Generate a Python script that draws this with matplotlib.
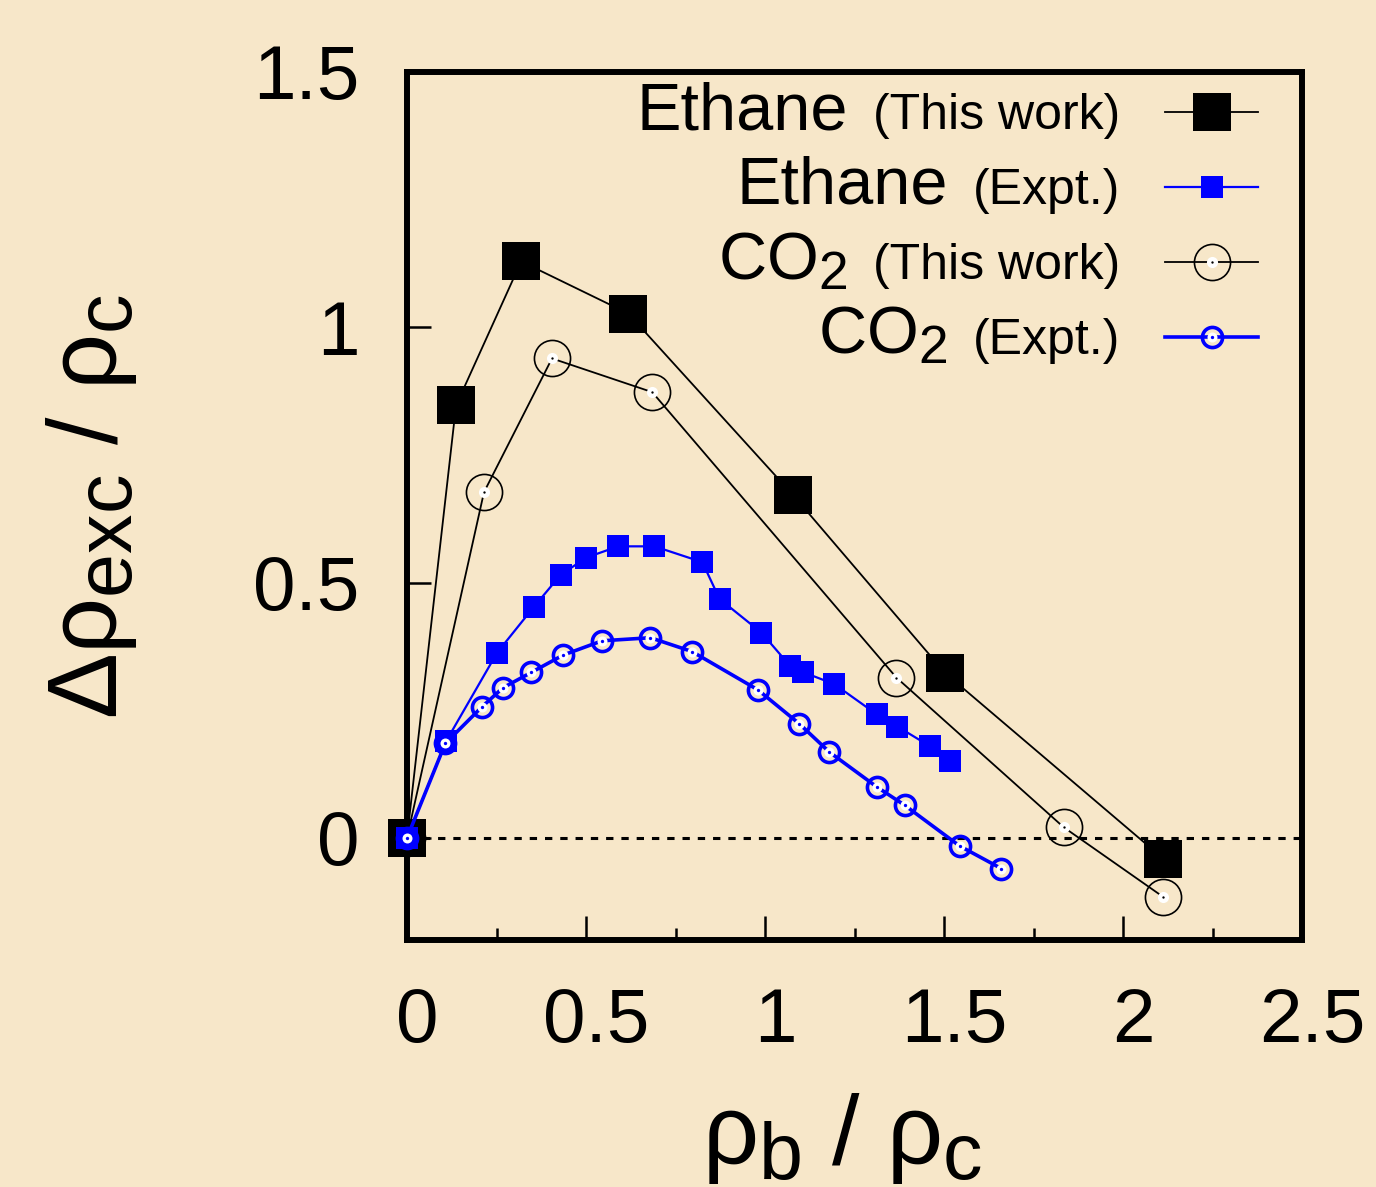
import matplotlib
matplotlib.use("Agg")
import matplotlib.pyplot as plt
import matplotlib.transforms as mtransforms
from matplotlib.legend_handler import HandlerTuple
from matplotlib.ticker import MultipleLocator
try:
    import matplotlib._mathtext as _mt
    _mt.SHRINK_FACTOR = 0.8
except Exception:
    pass

# ---------------- data ----------------
eth_sim_x = [0.0, 0.137, 0.319, 0.618, 1.079, 1.503, 2.113]
eth_sim_y = [0.0, 0.847, 1.129, 1.027, 0.671, 0.323, -0.041]

co2_sim_x = [0.0, 0.215, 0.405, 0.685, 1.367, 1.834, 2.111]
co2_sim_y = [0.0, 0.677, 0.939, 0.873, 0.314, 0.021, -0.115]

eth_exp_x = [0.0, 0.109, 0.252, 0.355, 0.429, 0.501, 0.590, 0.691, 0.825, 0.873,
             0.990, 1.071, 1.105, 1.194, 1.312, 1.370, 1.462, 1.518]
eth_exp_y = [0.0, 0.189, 0.363, 0.453, 0.515, 0.549, 0.571, 0.571, 0.540, 0.468,
             0.402, 0.336, 0.325, 0.301, 0.242, 0.218, 0.179, 0.150]

co2_exp_x = [0.0, 0.107, 0.210, 0.268, 0.347, 0.436, 0.545, 0.680, 0.796, 0.980,
             1.095, 1.180, 1.312, 1.390, 1.544, 1.660]
co2_exp_y = [0.0, 0.185, 0.257, 0.294, 0.324, 0.358, 0.386, 0.392, 0.365, 0.290,
             0.224, 0.168, 0.100, 0.064, -0.016, -0.060]

big_labels = ["Ethane", "Ethane", "CO$_2$", "CO$_2$"]
small_labels = ["(This work)", "(Expt.)", "(This work)", "(Expt.)"]

xticks = [0, 0.5, 1, 1.5, 2, 2.5]
xticklabels = ["0", "0.5", "1", "1.5", "2", "2.5"]
yticks = [0, 0.5, 1, 1.5]
yticklabels = ["0", "0.5", "1", "1.5"]

# ---------------- style ----------------
plt.rcParams['font.family'] = ['Liberation Sans', 'DejaVu Sans']
plt.rcParams['mathtext.fontset'] = 'custom'
plt.rcParams['mathtext.rm'] = 'Liberation Sans'
plt.rcParams['mathtext.it'] = 'Liberation Sans'
plt.rcParams['mathtext.bf'] = 'Liberation Sans:bold'

BG = '#F7E7C9'
BLUE = '#0000FF'

W, H = 1376, 1187
fig = plt.figure(figsize=(W / 100, H / 100), dpi=100, facecolor=BG)
ax = fig.add_axes([407 / W, 1 - 940 / H, (1302 - 407) / W, (940 - 72) / H])
ax.set_facecolor(BG)

ax.axhline(0, color='black', lw=2.2, ls=(0, (2.4, 2.6)), zorder=1)

# Ethane (This work)
h1, = ax.plot(eth_sim_x, eth_sim_y, color='black', lw=1.3, marker='s', ms=27,
              mfc='black', mec='black', mew=0, clip_on=False, zorder=3)
# CO2 (This work)
h3, = ax.plot(co2_sim_x, co2_sim_y, color='black', lw=1.3, marker='o', ms=26,
              mfc='none', mec='black', mew=1.2, clip_on=False, zorder=3)
h3w, = ax.plot(co2_sim_x, co2_sim_y, ls='none', marker='o', ms=8, mfc='white',
               mec='none', clip_on=False, zorder=4)
h3d, = ax.plot(co2_sim_x, co2_sim_y, ls='none', marker='o', ms=1.7, mfc='black',
               mec='none', clip_on=False, zorder=4)
# Ethane (Expt.)
h2, = ax.plot(eth_exp_x, eth_exp_y, color=BLUE, lw=1.6, marker='s', ms=15.5,
              mfc=BLUE, mec=BLUE, mew=0, clip_on=False, zorder=5)
# CO2 (Expt.)
h4, = ax.plot(co2_exp_x, co2_exp_y, color=BLUE, lw=2.6, marker='o', ms=14.5,
              mfc='none', mec=BLUE, mew=2.6, clip_on=False, zorder=6)
h4w, = ax.plot(co2_exp_x, co2_exp_y, ls='none', marker='o', ms=7.2, mfc='white',
               mec='none', clip_on=False, zorder=7)
h4d, = ax.plot(co2_exp_x, co2_exp_y, ls='none', marker='o', ms=2.4, mfc=BLUE,
               mec='none', clip_on=False, zorder=7)

ax.set_xlim(0, 2.5)
ax.set_ylim(-0.2, 1.5)
ax.set_xticks(xticks)
ax.set_xticklabels(xticklabels)
ax.xaxis.set_minor_locator(MultipleLocator(0.25))
ax.set_yticks(yticks)
ax.set_yticklabels(yticklabels)

for s in ax.spines.values():
    s.set_linewidth(4.3)
ax.tick_params(axis='both', which='major', direction='in', length=17, width=1.8,
               labelsize=55, top=False, right=False)
ax.tick_params(axis='x', which='major', pad=34)
ax.tick_params(axis='y', which='major', pad=34)
ax.tick_params(axis='x', which='minor', direction='in', length=8.6, width=1.8, top=False)

off = mtransforms.ScaledTranslation(10 / 100, 0, fig.dpi_scale_trans)
for lab in ax.get_xticklabels():
    lab.set_transform(lab.get_transform() + off)

ax.set_xlabel(r'$\rho_{\rm b}$ / $\rho_{\rm c}$', fontsize=71)
ax.xaxis.set_label_coords((842 - 407) / 895, -0.174)
ax.set_ylabel(r'$\Delta\rho_{\rm exc}$ / $\rho_{\rm c}$', fontsize=71)
ax.yaxis.set_label_coords(-0.300, 0.5)

handles = [h1, h2, (h3, h3w, h3d), (h4, h4w, h4d)]
leg = ax.legend(handles, small_labels, loc='upper right',
                bbox_to_anchor=(1258 / W, 1 - 93 / H), bbox_transform=fig.transFigure,
                borderaxespad=0, borderpad=0, frameon=False, markerfirst=False,
                fontsize=36, handlelength=1.86, handletextpad=0.9, labelspacing=0.58,
                handler_map={tuple: HandlerTuple(ndivide=1, pad=0)})

fig.canvas.draw()
r = fig.canvas.get_renderer()
for t, big in zip(leg.get_texts(), big_labels):
    bb = t.get_window_extent(r)
    bx, by = t.get_transform().transform((0, 0))
    fig.text(bb.x0 - 25, by, big, fontsize=48, ha='right', va='baseline',
             transform=mtransforms.IdentityTransform())

fig.savefig('out.png', dpi=100, facecolor=BG)
